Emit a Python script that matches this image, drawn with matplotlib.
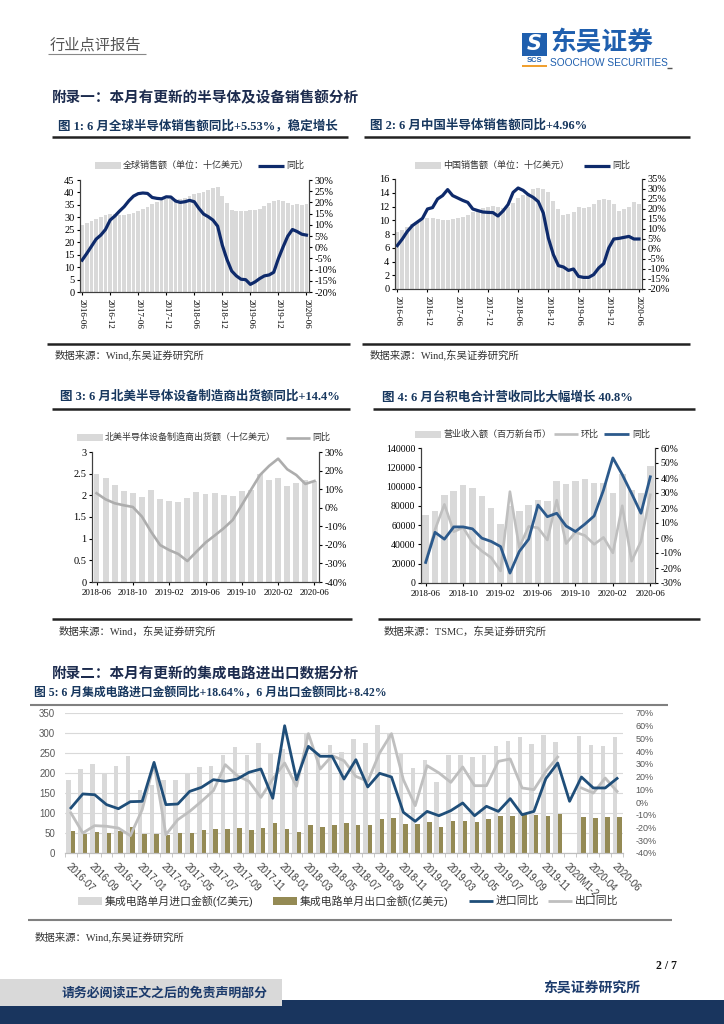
import numpy as np
import matplotlib
matplotlib.use('Agg')
import matplotlib.pyplot as plt
from matplotlib.patches import Rectangle
from matplotlib.lines import Line2D

W, H = 724, 1024
SERIF = ['Liberation Serif', 'Noto Sans CJK SC']
SANS = ['Liberation Sans', 'Noto Sans CJK SC']
CJK = ['Noto Sans CJK SC', 'DejaVu Sans']
plt.rcParams['font.family'] = SERIF
plt.rcParams['axes.unicode_minus'] = False

# ---------------- data ----------------
# Fig 1: global semiconductor sales 2016-06 .. 2020-06
global_sales = [27.0, 27.6, 28.6, 29.5, 30.3, 30.8, 31.4, 31.3, 31.0, 31.0,
                31.3, 31.8, 32.5, 33.3, 34.3, 35.3, 36.2, 36.8, 37.2, 37.4,
                37.2, 37.3, 37.8, 38.7, 39.5, 39.9, 40.3, 41.0, 41.7, 42.1,
                38.6, 35.8, 33.0, 32.6, 32.4, 32.6, 33.1, 33.0, 33.5, 34.5,
                35.7, 36.7, 36.8, 36.4, 35.8, 35.0, 35.2, 34.9, 35.2]
global_yoy = [-5.8, -2.8, 0.4, 3.6, 5.4, 7.9, 12.1, 13.9, 16.1, 18.1,
              20.7, 22.8, 23.9, 24.2, 24.0, 22.2, 21.8, 21.6, 22.5, 22.4,
              20.6, 20.0, 20.3, 20.9, 20.3, 17.3, 14.8, 13.6, 12.1, 9.4,
              0.9, -5.5, -10.6, -12.8, -14.3, -14.5, -16.6, -15.5, -14.0, -12.8,
              -12.4, -11.2, -5.1, 0.1, 4.9, 7.9, 7.0, 5.8, 5.4]
ticks_16_20 = ['2016-06', '2016-12', '2017-06', '2017-12', '2018-06',
               '2018-12', '2019-06', '2019-12', '2020-06']

# Fig 2: China semiconductor sales
china_sales = [8.3, 8.6, 9.0, 9.5, 9.7, 10.0, 10.3, 10.3, 10.2, 10.1,
               10.1, 10.2, 10.3, 10.5, 10.8, 11.2, 11.5, 11.8, 12.0, 12.1,
               12.0, 11.8, 12.0, 12.5, 13.2, 13.7, 14.0, 14.5, 14.7, 14.5,
               14.1, 12.8, 11.7, 10.8, 10.9, 11.2, 12.0, 11.8, 11.9, 12.3,
               12.9, 13.1, 13.0, 12.4, 11.4, 11.6, 11.9, 12.6, 12.4]
china_yoy = [1.7, 5.0, 8.8, 11.7, 13.5, 15.3, 20.0, 20.7, 25.0, 26.7,
             29.7, 26.7, 25.5, 24.3, 23.3, 20.0, 19.2, 18.5, 18.3, 18.2,
             16.5, 19.0, 22.2, 28.3, 30.5, 29.3, 27.2, 25.8, 23.7, 18.0,
             5.5, -2.8, -8.3, -9.0, -10.7, -10.0, -13.7, -14.2, -14.2, -12.8,
             -9.5, -7.3, 0.5, 5.0, 5.3, 5.8, 6.3, 5.0, 5.0]

# Fig 3: North America semiconductor equipment billings 2018-06 .. 2020-06
semi_bill = [2.49, 2.39, 2.25, 2.09, 2.05, 1.96, 2.12, 1.92, 1.88, 1.84,
             1.94, 2.08, 2.04, 2.05, 2.01, 1.98, 2.09, 2.12, 2.49, 2.36,
             2.39, 2.22, 2.29, 2.35, 2.32]
semi_yoy = [7.8, 4.5, 2.4, 1.3, 0.4, -4.8, -12.9, -20.1, -22.8, -24.9,
            -28.7, -23.7, -18.8, -15.0, -11.1, -6.6, 1.5, 9.6, 17.6, 22.5,
            26.4, 20.7, 17.6, 12.8, 14.4]
ticks_18_20 = ['2018-06', '2018-10', '2019-02', '2019-06', '2019-10',
               '2020-02', '2020-06']

# Fig 4: TSMC monthly revenue (NT$ mn)
tsmc_rev = [70440, 74370, 91060, 94920, 101550, 98390, 89830, 78090, 60890, 79720,
            74690, 80440, 85870, 84760, 106120, 102170, 106040, 107880, 103310, 103680,
            93390, 113520, 96000, 93820, 120880]
tsmc_mom = [-15.6, 5.6, 22.4, 4.2, 7.0, -3.1, -8.7, -13.1, -22.0, 30.9,
            -6.3, 7.7, 6.8, -1.3, 25.2, -3.7, 3.8, 1.7, -4.2, 0.4,
            -9.9, 21.5, -15.4, -2.3, 28.8]
tsmc_yoy = [-16.3, 3.8, -0.8, 7.4, 7.4, 6.1, -0.1, -2.3, -5.7, -23.4,
            -9.0, -0.8, 22.0, 14.2, 16.5, 8.0, 4.3, 9.2, 14.7, 32.0,
            53.4, 42.3, 29.7, 16.5, 40.8]

# Fig 5: China IC import / export (100 mn USD), 2016-07 .. 2020-06 (Jan-Feb 2020 combined)
nan = np.nan
ic_import = [183, 211, 223, 200, 218, 243, 158, 171, 183, 183,
             200, 214, 217, 246, 264, 246, 275, 250, 260, 190,
             300, 250, 269, 253, 285, 276, 321, 300, 250, 212,
             233, 177, 245, 245, 240, 246, 267, 281, 290, 272,
             294, 277, nan, 292, 271, 267, 290]
ic_export = [54, 48, 52, 49, 56, 64, 47, 47, 46, 50,
             50, 57, 60, 61, 62, 57, 62, 75, 60, 53,
             70, 64, 69, 75, 71, 70, 85, 87, 73, 72,
             77, 64, 81, 81, 77, 85, 93, 93, 94, 94,
             92, 97, nan, 89, 87, 91, 91]
import_yoy = [-4.6, 6.4, 5.8, -2.0, -5.2, 0.3, 0.6, 31.2, -2.0, -1.5,
              8.4, 11.6, 17.6, 16.3, 18.1, 23.4, 26.0, 3.0, 60.0, 17.6,
              43.8, 36.0, 36.0, 18.1, 33.3, 11.9, 22.6, 19.7, -8.0, -15.1,
              -7.3, -10.7, -6.7, -0.7, -10.7, -3.3, -7.3, 2.7, -9.9, -7.3,
              18.4, 30.7, 0.6, 19.7, 11.1, 11.1, 18.6]
export_yoy = [-8.6, -24.3, -18.5, -19.0, -20.4, -26.4, -6.0, 29.9, -25.6, -13.8,
              -7.3, 0.6, 9.0, 29.4, 20.8, 16.3, 3.7, 18.1, 30.7, 12.4,
              53.8, 26.0, 36.5, 32.5, 20.2, 16.3, 38.6, 53.8, 17.6, -2.8,
              28.6, 22.9, 15.5, 27.6, 12.9, 12.9, 32.0, 33.9, 11.1, 9.8,
              24.2, 35.4, nan, 11.1, 7.1, 18.9, 8.4]
ticks_ic = ['2016-07', '2016-09', '2016-11', '2017-01', '2017-03', '2017-05',
            '2017-07', '2017-09', '2017-11', '2018-01', '2018-03', '2018-05',
            '2018-07', '2018-09', '2018-11', '2019-01', '2019-03', '2019-05',
            '2019-07', '2019-09', '2019-11', '2020M1-2', '2020-04', '2020-06']

# ---------------- styles ----------------
BAR_GRAY = '#D9D9D9'
NAVY = '#0E2A6B'
GRAY_LINE = '#ADADAD'
BLUE = '#2C5A8C'
OLIVE = '#948A54'
IC_BLUE = '#1F4E79'
IC_GRAY = '#BFBFBF'
TITLE = '#17375E'
SECTION = '#1C2B4E'

fig = plt.figure(figsize=(W / 100, H / 100), dpi=100)
fig.patch.set_facecolor('white')


def add_ax(l, t, r, b):
    return fig.add_axes([l / W, 1 - b / H, (r - l) / W, (b - t) / H])


def ftext(x, y, s, **kw):
    kw.setdefault('va', 'center')
    kw.setdefault('ha', 'left')
    fig.text(x / W, 1 - y / H, s, **kw)


def fline(x0, x1, y0, y1=None, lw=1.0, color='k'):
    if y1 is None:
        y1 = y0
    fig.add_artist(Line2D([x0 / W, x1 / W], [1 - y0 / H, 1 - y1 / H], lw=lw,
                          color=color, transform=fig.transFigure,
                          solid_capstyle='butt'))


def frect(x0, y0, x1, y1, color):
    fig.add_artist(Rectangle((x0 / W, 1 - y1 / H), (x1 - x0) / W, (y1 - y0) / H,
                             transform=fig.transFigure, facecolor=color,
                             edgecolor='none'))


def style_pair(ax, ax2, fs_y=7.5, fs_x=6.5):
    for a in (ax, ax2):
        a.spines['top'].set_visible(False)
        for s in ('left', 'right', 'bottom'):
            a.spines[s].set_color('#404040')
            a.spines[s].set_linewidth(0.8)
    ax.tick_params(axis='y', labelsize=fs_y, length=2, pad=2, colors='#000000')
    ax2.tick_params(axis='y', labelsize=fs_y, length=2, pad=2, colors='#000000')
    ax.tick_params(axis='x', labelsize=fs_x, length=2, pad=3)


def pct_labels(ax, lo, hi, step):
    vals = list(range(lo, hi + 1, step))
    ax.set_ylim(lo, hi)
    ax.set_yticks(vals)
    ax.set_yticklabels([f'{v}%' for v in vals])


LEG_FS = 6.5

# ---------------- header ----------------
ftext(50, 45, '行业点评报告', fontsize=11, family=CJK, color='#555555')
fline(48, 146, 54, lw=0.8, color='#888888')
frect(522, 33, 547, 56, '#1F5FAE')
ftext(534.5, 44.5, 'S', fontsize=15, fontweight='bold', color='white',
      ha='center', family=['DejaVu Sans'], style='italic')
ftext(534.5, 61, 'SCS', fontsize=5.5, fontweight='bold', color='#1F5FAE',
      ha='center', family=SANS)
frect(522, 65, 547, 66.5, '#F0A030')
ftext(550, 42, '东吴证券', fontsize=18.5, fontweight='bold', color='#1F5FAE', family=CJK)
ftext(550, 62.5, 'SOOCHOW SECURITIES', fontsize=7.3, color='#1F5FAE', family=SANS)
fline(667, 672, 68, lw=1, color='#555555')

ftext(52, 97, '附录一：本月有更新的半导体及设备销售额分析', fontsize=10.5,
      fontweight='bold', color=SECTION, family=CJK)

# ---------------- Fig 1 ----------------
ftext(58, 126, '图 1: 6 月全球半导体销售额同比+5.53%，稳定增长', fontsize=9,
      fontweight='bold', color=TITLE)
fline(52, 348, 137, lw=1.8, color='#222222')
ax1 = add_ax(80, 180, 309, 292)
x1 = np.arange(len(global_sales))
ax1.bar(x1, global_sales, width=0.8, color=BAR_GRAY, linewidth=0)
ax1.set_ylim(0, 45)
ax1.set_yticks(range(0, 46, 5))
ax1.set_xlim(-0.45, len(global_sales) - 0.45)
ax1.set_xticks(range(0, 49, 6))
ax1.set_xticklabels(ticks_16_20, rotation=-90)
ax1b = ax1.twinx()
ax1b.plot(x1, global_yoy, color=NAVY, lw=2.3, solid_joinstyle='round')
pct_labels(ax1b, -20, 30, 5)
style_pair(ax1, ax1b)
frect(95, 162, 121, 169, BAR_GRAY)
ftext(123, 165.5, '全球销售额（单位：十亿美元）', fontsize=LEG_FS, family=CJK, color='#333333')
fline(258, 284, 165.5, lw=2.3, color=NAVY)
ftext(286, 165.5, '同比', fontsize=LEG_FS, family=CJK, color='#333333')
fline(47, 350, 344, lw=1.8, color='#222222')
ftext(55, 355, '数据来源：Wind,东吴证券研究所', fontsize=7.5, color='#333333')

# ---------------- Fig 2 ----------------
ftext(370, 126, '图 2: 6 月中国半导体销售额同比+4.96%', fontsize=9,
      fontweight='bold', color=TITLE)
fline(364, 690, 137, lw=1.8, color='#222222')
ax2 = add_ax(395, 179, 642, 289)
x2 = np.arange(len(china_sales))
ax2.bar(x2, china_sales, width=0.8, color=BAR_GRAY, linewidth=0)
ax2.set_ylim(0, 16)
ax2.set_yticks(range(0, 17, 2))
ax2.set_xlim(-0.45, len(china_sales) - 0.4)
ax2.set_xticks(range(0, 49, 6))
ax2.set_xticklabels(ticks_16_20, rotation=-90)
ax2b = ax2.twinx()
ax2b.plot(x2, china_yoy, color=NAVY, lw=2.3, solid_joinstyle='round')
pct_labels(ax2b, -20, 35, 5)
style_pair(ax2, ax2b)
frect(415, 162, 441, 169, BAR_GRAY)
ftext(443, 165.5, '中国销售额（单位：十亿美元）', fontsize=LEG_FS, family=CJK, color='#333333')
fline(584, 610, 165.5, lw=2.3, color=NAVY)
ftext(612, 165.5, '同比', fontsize=LEG_FS, family=CJK, color='#333333')
fline(362, 690, 344, lw=1.8, color='#222222')
ftext(370, 355, '数据来源：Wind,东吴证券研究所', fontsize=7.5, color='#333333')

# ---------------- Fig 3 ----------------
ftext(60, 397, '图 3: 6 月北美半导体设备制造商出货额同比+14.4%', fontsize=9,
      fontweight='bold', color=TITLE)
fline(52, 350, 409, lw=1.8, color='#222222')
ax3 = add_ax(92, 452, 319, 582)
x3 = np.arange(len(semi_bill))
ax3.bar(x3, semi_bill, width=0.65, color=BAR_GRAY, linewidth=0)
ax3.set_ylim(0, 3)
ax3.set_yticks([0, 0.5, 1, 1.5, 2, 2.5, 3])
ax3.set_yticklabels(['0', '0.5', '1', '1.5', '2', '2.5', '3'])
ax3.set_xlim(-0.5, len(semi_bill) - 0.5)
ax3.set_xticks(range(0, 25, 4))
ax3.set_xticklabels(ticks_18_20)
ax3b = ax3.twinx()
ax3b.plot(x3, semi_yoy, color=GRAY_LINE, lw=1.9, solid_joinstyle='round')
pct_labels(ax3b, -40, 30, 10)
style_pair(ax3, ax3b)
frect(77, 434, 103, 441, BAR_GRAY)
ftext(105, 437.5, '北美半导体设备制造商出货额（十亿美元）', fontsize=LEG_FS, family=CJK, color='#333333')
fline(286, 310, 437.5, lw=1.9, color=GRAY_LINE)
ftext(312, 437.5, '同比', fontsize=LEG_FS, family=CJK, color='#333333')
fline(52, 352, 619, lw=1.8, color='#222222')
ftext(59, 632, '数据来源：Wind，东吴证券研究所', fontsize=7.5, color='#333333')

# ---------------- Fig 4 ----------------
ftext(382, 397, '图 4: 6 月台积电合计营收同比大幅增长 40.8%', fontsize=9,
      fontweight='bold', color=TITLE)
fline(373, 695, 409, lw=1.8, color='#222222')
ax4 = add_ax(421, 448, 655, 583)
x4 = np.arange(len(tsmc_rev))
ax4.bar(x4, tsmc_rev, width=0.7, color=BAR_GRAY, linewidth=0)
ax4.set_ylim(0, 140000)
ax4.set_yticks(range(0, 140001, 20000))
ax4.set_xlim(-0.5, len(tsmc_rev) - 0.5)
ax4.set_xticks(range(0, 25, 4))
ax4.set_xticklabels(ticks_18_20)
ax4b = ax4.twinx()
ax4b.plot(x4, tsmc_mom, color=IC_GRAY, lw=1.9, solid_joinstyle='round')
ax4b.plot(x4, tsmc_yoy, color=BLUE, lw=2.0, solid_joinstyle='round')
pct_labels(ax4b, -30, 60, 10)
style_pair(ax4, ax4b, fs_y=7)
frect(415, 430.5, 441, 437.5, BAR_GRAY)
ftext(443, 434, '营业收入额（百万新台币）', fontsize=LEG_FS, family=CJK, color='#333333')
fline(554, 578, 434, lw=1.9, color=IC_GRAY)
ftext(581, 434, '环比', fontsize=LEG_FS, family=CJK, color='#333333')
fline(604, 629, 434, lw=2.0, color=BLUE)
ftext(632, 434, '同比', fontsize=LEG_FS, family=CJK, color='#333333')
fline(378, 700, 619, lw=1.8, color='#222222')
ftext(384, 632, '数据来源：TSMC，东吴证券研究所', fontsize=7.5, color='#333333')

# ---------------- Section 2 / Fig 5 ----------------
ftext(52, 673, '附录二：本月有更新的集成电路进出口数据分析', fontsize=10.5,
      fontweight='bold', color=SECTION, family=CJK)
ftext(34, 693, '图 5: 6 月集成电路进口金额同比+18.64%，6 月出口金额同比+8.42%',
      fontsize=8.5, fontweight='bold', color=TITLE)
fline(30, 668, 705, lw=1.5, color='#808080')

ax5 = add_ax(65, 713, 623, 853)
x5 = np.arange(len(ic_import))
ax5.set_axisbelow(True)
ax5.yaxis.grid(True, color='#D9D9D9', lw=0.8)
ax5.bar(x5 - 0.19, ic_import, width=0.38, color=BAR_GRAY, linewidth=0)
ax5.bar(x5 + 0.19, ic_export, width=0.38, color=OLIVE, linewidth=0)
ax5.set_ylim(0, 350)
ax5.set_yticks(range(0, 351, 50))
ax5.set_xlim(-0.5, len(ic_import) - 0.5)
ax5.set_xticks(range(0, 47, 2))
ax5.set_xticklabels(ticks_ic, rotation=-45, ha='left', va='top',
                    rotation_mode='anchor', family=SANS)
ax5.set_xticks(np.arange(-0.5, len(ic_import), 1), minor=True)
ax5.tick_params(axis='x', which='major', length=0, labelsize=7, pad=6,
                colors='#404040')
ax5.tick_params(axis='x', which='minor', length=3, color='#BFBFBF')
ax5.tick_params(axis='y', length=0, labelsize=7, pad=7, colors='#595959')
for lab in ax5.get_yticklabels():
    lab.set_family(SANS)
ax5b = ax5.twinx()
ax5b.plot(x5, export_yoy, color=IC_GRAY, lw=2.0, solid_joinstyle='round')
ax5b.plot(x5, import_yoy, color=IC_BLUE, lw=2.0, solid_joinstyle='round')
pct_labels(ax5b, -40, 70, 10)
ax5b.tick_params(axis='y', length=0, labelsize=6.5, pad=9, colors='#595959')
for lab in ax5b.get_yticklabels():
    lab.set_family(SANS)
for a in (ax5, ax5b):
    for s in ('top', 'left', 'right'):
        a.spines[s].set_visible(False)
    a.spines['bottom'].set_color('#BFBFBF')
    a.spines['bottom'].set_linewidth(0.8)

frect(78, 897, 102, 905, BAR_GRAY)
ftext(105, 901, '集成电路单月进口金额(亿美元)', fontsize=7.8, family=SANS, color='#333333')
frect(273, 897, 297, 905, OLIVE)
ftext(300, 901, '集成电路单月出口金额(亿美元)', fontsize=7.8, family=SANS, color='#333333')
fline(469, 493, 901, lw=2.0, color=IC_BLUE)
ftext(496, 901, '进口同比', fontsize=7.8, family=SANS, color='#333333')
fline(548, 572, 901, lw=2.0, color=IC_GRAY)
ftext(575, 901, '出口同比', fontsize=7.8, family=SANS, color='#333333')

fline(28, 672, 920, lw=1.5, color='#808080')
ftext(35, 937, '数据来源：Wind,东吴证券研究所', fontsize=7.5, color='#333333')

# ---------------- footer ----------------
ftext(656, 966, '2 / 7', fontsize=8.5, fontweight='bold', color='#111111')
ftext(543, 989, '东吴证券研究所', fontsize=10, fontweight='bold', color='#1B3A6B', family=CJK)
frect(0, 979, 282, 1006, '#D9D9D9')
frect(282, 1000, 724, 1024, '#19355E')
frect(0, 1006, 282, 1024, '#19355E')
ftext(62, 993, '请务必阅读正文之后的免责声明部分', fontsize=9.3, fontweight='bold',
      color='#1B3A6B', family=CJK)

fig.savefig('out.png', dpi=100)
